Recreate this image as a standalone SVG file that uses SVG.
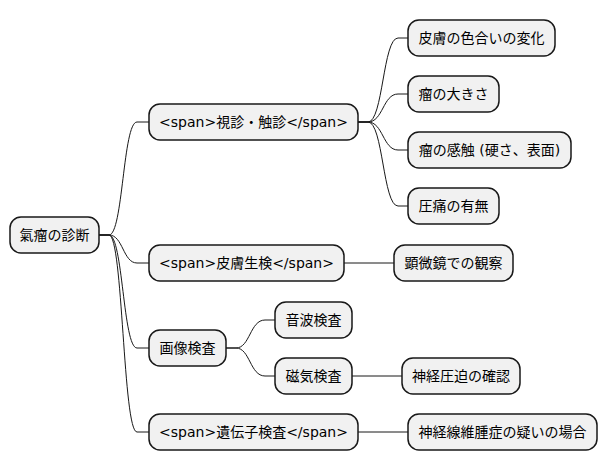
<svg xmlns="http://www.w3.org/2000/svg" width="607" height="471" viewBox="0 0 607 471">
<style>
.n rect{fill:#f1f1f1;stroke:#181818;stroke-width:1.5}
.n text{font-family:"DejaVu Sans","Noto Sans CJK JP",sans-serif;font-size:14px;fill:#000;text-anchor:middle}
#edges path{fill:none;stroke:#181818;stroke-width:1}
</style>
<rect width="607" height="471" fill="#fff"/>
<g id="edges">
<path d="M99,235 L109,235 C123,235 123,122 137,122 L149,122"/>
<path d="M99,235 L109,235 C123,235 123,263 137,263 L149,263"/>
<path d="M99,235 L109,235 C123,235 123,348 137,348 L149,348"/>
<path d="M99,235 L109,235 C123,235 123,432 137,432 L149,432"/>
<path d="M358,122 L368,122 C383,122 383,38 398,38 L408,38"/>
<path d="M358,122 L368,122 C383,122 383,94 398,94 L408,94"/>
<path d="M358,122 L368,122 C383,122 383,150 398,150 L408,150"/>
<path d="M358,122 L368,122 C383,122 383,206 398,206 L408,206"/>
<path d="M344,263 L394,263"/>
<path d="M226,348 L236,348 C250,348 250,320 265,320 L275,320"/>
<path d="M226,348 L236,348 C250,348 250,376 265,376 L275,376"/>
<path d="M352,376 L402,376"/>
<path d="M358,432 L408,432"/>
</g>
<g id="root" class="n"><rect x="10" y="217" width="89" height="36" rx="11"/><text x="54.5" y="240">氣瘤の診断</text></g>
<g id="n1" class="n"><rect x="149" y="104" width="209" height="36" rx="11"/><text x="253.5" y="127">&lt;span&gt;視診・触診&lt;/span&gt;</text></g>
<g id="n1a" class="n"><rect x="408" y="20" width="147" height="36" rx="11"/><text x="481.5" y="43">皮膚の色合いの変化</text></g>
<g id="n1b" class="n"><rect x="408" y="76" width="91" height="36" rx="11"/><text x="453.5" y="99">瘤の大きさ</text></g>
<g id="n1c" class="n"><rect x="408" y="132" width="163" height="36" rx="11"/><text x="489.5" y="155">瘤の感触 (硬さ、表面)</text></g>
<g id="n1d" class="n"><rect x="408" y="188" width="91" height="36" rx="11"/><text x="453.5" y="211">圧痛の有無</text></g>
<g id="n2" class="n"><rect x="149" y="245" width="195" height="36" rx="11"/><text x="246.5" y="268">&lt;span&gt;皮膚生検&lt;/span&gt;</text></g>
<g id="n2a" class="n"><rect x="394" y="245" width="119" height="36" rx="11"/><text x="453.5" y="268">顕微鏡での観察</text></g>
<g id="n3" class="n"><rect x="149" y="330" width="77" height="36" rx="11"/><text x="187.5" y="353">画像検査</text></g>
<g id="n3a" class="n"><rect x="275" y="302" width="77" height="36" rx="11"/><text x="313.5" y="325">音波検査</text></g>
<g id="n3b" class="n"><rect x="275" y="358" width="77" height="36" rx="11"/><text x="313.5" y="381">磁気検査</text></g>
<g id="n3b1" class="n"><rect x="402" y="358" width="118" height="36" rx="11"/><text x="461" y="381">神経圧迫の確認</text></g>
<g id="n4" class="n"><rect x="149" y="414" width="209" height="36" rx="11"/><text x="253.5" y="437">&lt;span&gt;遺伝子検査&lt;/span&gt;</text></g>
<g id="n4a" class="n"><rect x="408" y="414" width="189" height="36" rx="11"/><text x="502.5" y="437">神経線維腫症の疑いの場合</text></g>
</svg>
